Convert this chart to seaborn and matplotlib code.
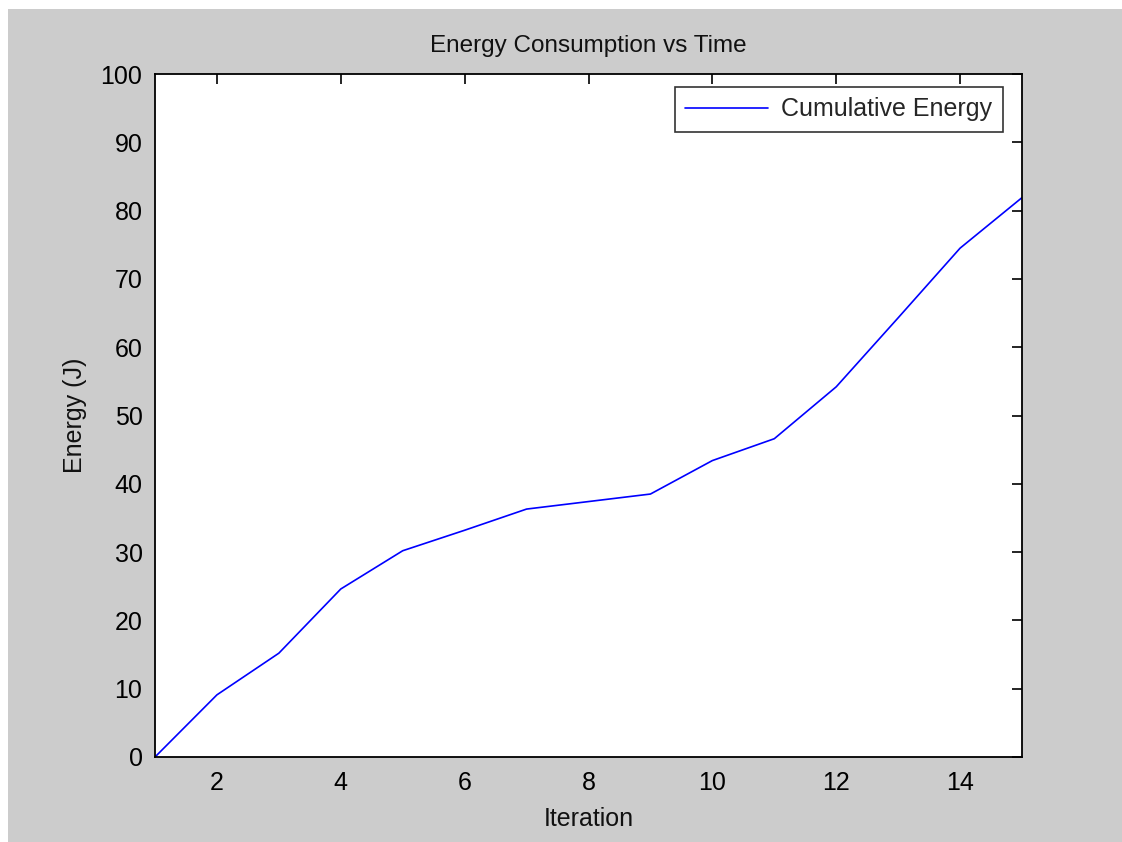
import matplotlib
matplotlib.use("Agg")
import matplotlib.pyplot as plt
import seaborn as sns
import pandas as pd
from matplotlib.patches import Rectangle

iterations = [1, 2, 3, 4, 5, 6, 7, 8, 9, 10, 11, 12, 13, 14, 15]
energy = [0.0, 9.1, 15.2, 24.6, 30.2, 33.2, 36.3, 37.4, 38.5, 43.4, 46.6, 54.2, 64.3, 74.5, 81.9]
series_label = "Cumulative Energy"

sns.set_theme(style="white")
plt.rcParams['font.family'] = ['Liberation Sans', 'DejaVu Sans']

fig = plt.figure(figsize=(11.22, 8.42), dpi=100)
fig.patch.set_facecolor('#cccccc')
# white strips at top and left as in the reference screenshot
fig.patches.append(Rectangle((0, 1 - 9 / 842), 1, 9 / 842, transform=fig.transFigure,
                             facecolor='white', edgecolor='none', zorder=-10))
fig.patches.append(Rectangle((0, 0), 8 / 1122, 1, transform=fig.transFigure,
                             facecolor='white', edgecolor='none', zorder=-10))

ax = fig.add_axes([155 / 1122, 1 - 757 / 842, (1022 - 155) / 1122, (757 - 74) / 842])
ax.set_facecolor('white')

df = pd.DataFrame({"Iteration": iterations, "Energy": energy})
sns.lineplot(data=df, x="Iteration", y="Energy", ax=ax, color=(0, 0, 1),
             linewidth=1.2, label=series_label)

ax.set_xlim(1, 15)
ax.set_ylim(0, 100)
ax.set_xticks([2, 4, 6, 8, 10, 12, 14])
ax.set_yticks(range(0, 101, 10))
ax.tick_params(direction='in', length=7, width=1.2, top=True, right=True,
               labelsize=18, colors='black')
ax.tick_params(axis='x', pad=10)
ax.tick_params(axis='y', pad=9)
for s in ax.spines.values():
    s.set_visible(True)
    s.set_color('black')
    s.set_linewidth(1.3)

ax.set_title("Energy Consumption vs Time", fontsize=17.5, pad=16, color='#111111')
ax.set_xlabel("Iteration", fontsize=18, labelpad=9, color='#111111')
ax.set_ylabel("Energy (J)", fontsize=18, labelpad=10, color='#111111')

leg = ax.legend(loc='upper right', bbox_to_anchor=(0.978, 0.981), fontsize=18,
                frameon=True, fancybox=False, handlelength=3.3, handletextpad=0.55,
                borderaxespad=0.0, borderpad=0.42)
leg.get_frame().set_edgecolor('black')
leg.get_frame().set_linewidth(1.2)

fig.savefig("out.png", dpi=100, facecolor=fig.get_facecolor())
